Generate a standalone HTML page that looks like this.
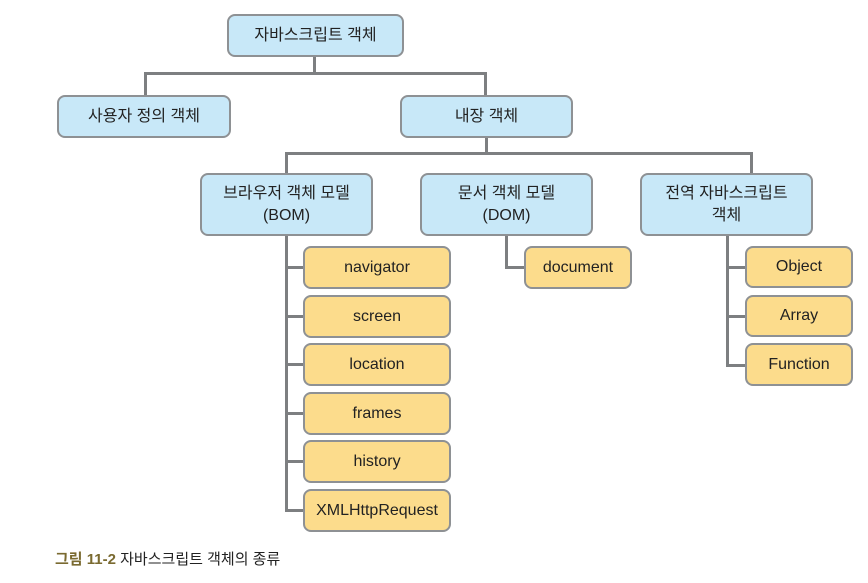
<!DOCTYPE html>
<html><head><meta charset="utf-8"><style>
body{margin:0;width:868px;height:583px;background:#fff;position:relative;overflow:hidden;font-family:"Liberation Sans","Noto Sans CJK KR",sans-serif;}
.b{position:absolute;box-sizing:border-box;border:2.5px solid #8e9194;border-radius:8px;display:flex;align-items:center;justify-content:center;text-align:center;font-size:16px;color:#222;line-height:22px;}
.u{background:#c8e8f8;}
.y{background:#fcdc8c;}
.l{position:absolute;background:#7d7f81;}
</style></head><body>
<!-- lines -->
<div class="l" style="left:313px;top:56px;width:3px;height:19px"></div>
<div class="l" style="left:144px;top:72px;width:343px;height:3px"></div>
<div class="l" style="left:144px;top:72px;width:3px;height:24px"></div>
<div class="l" style="left:484px;top:72px;width:3px;height:24px"></div>
<div class="l" style="left:485px;top:136px;width:3px;height:19px"></div>
<div class="l" style="left:285px;top:152px;width:468px;height:3px"></div>
<div class="l" style="left:285px;top:152px;width:3px;height:24px"></div>
<div class="l" style="left:750px;top:152px;width:3px;height:24px"></div>
<div class="l" style="left:285px;top:234px;width:3px;height:278px"></div>
<div class="l" style="left:285px;top:266px;width:20px;height:3px"></div>
<div class="l" style="left:285px;top:315px;width:20px;height:3px"></div>
<div class="l" style="left:285px;top:363px;width:20px;height:3px"></div>
<div class="l" style="left:285px;top:412px;width:20px;height:3px"></div>
<div class="l" style="left:285px;top:460px;width:20px;height:3px"></div>
<div class="l" style="left:285px;top:509px;width:20px;height:3px"></div>
<div class="l" style="left:505px;top:234px;width:3px;height:35px"></div>
<div class="l" style="left:505px;top:266px;width:20px;height:3px"></div>
<div class="l" style="left:726px;top:234px;width:3px;height:133px"></div>
<div class="l" style="left:726px;top:266px;width:20px;height:3px"></div>
<div class="l" style="left:726px;top:315px;width:20px;height:3px"></div>
<div class="l" style="left:726px;top:364px;width:20px;height:3px"></div>
<!-- boxes -->
<div class="b u" style="left:227px;top:14px;width:177px;height:43px">자바스크립트 객체</div>
<div class="b u" style="left:57px;top:95px;width:174px;height:43px">사용자 정의 객체</div>
<div class="b u" style="left:400px;top:95px;width:173px;height:43px">내장 객체</div>
<div class="b u" style="left:200px;top:173px;width:173px;height:63px">브라우저 객체 모델<br>(BOM)</div>
<div class="b u" style="left:420px;top:173px;width:173px;height:63px">문서 객체 모델<br>(DOM)</div>
<div class="b u" style="left:640px;top:173px;width:173px;height:63px">전역 자바스크립트<br>객체</div>
<div class="b y" style="left:303px;top:246px;width:148px;height:43px">navigator</div>
<div class="b y" style="left:303px;top:295px;width:148px;height:43px">screen</div>
<div class="b y" style="left:303px;top:343px;width:148px;height:43px">location</div>
<div class="b y" style="left:303px;top:392px;width:148px;height:43px">frames</div>
<div class="b y" style="left:303px;top:440px;width:148px;height:43px">history</div>
<div class="b y" style="left:303px;top:489px;width:148px;height:43px">XMLHttpRequest</div>
<div class="b y" style="left:524px;top:246px;width:108px;height:43px">document</div>
<div class="b y" style="left:745px;top:246px;width:108px;height:42px">Object</div>
<div class="b y" style="left:745px;top:295px;width:108px;height:42px">Array</div>
<div class="b y" style="left:745px;top:343px;width:108px;height:43px">Function</div>
<div style="position:absolute;left:55px;top:548px;font-size:15px;color:#222;white-space:nowrap"><span style="color:#7a6a30;font-weight:bold">그림 11-2</span> 자바스크립트 객체의 종류</div>
</body></html>
